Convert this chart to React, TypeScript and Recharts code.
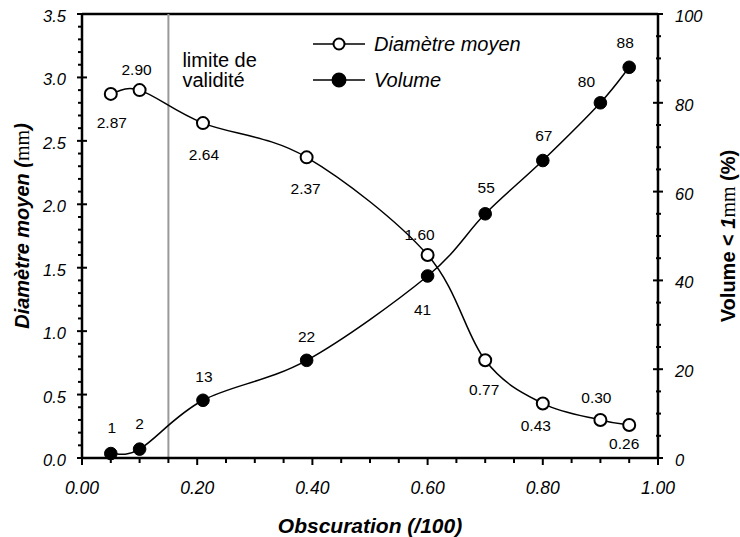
import {
  LineChart,
  Line,
  XAxis,
  YAxis,
  ReferenceLine,
  LabelList,
  Legend,
  Label,
} from 'recharts';

const FONT = "Arial, 'Liberation Sans', sans-serif";

const obscuration = [0.05, 0.1, 0.21, 0.39, 0.6, 0.7, 0.8, 0.9, 0.95];
const diametre = [2.87, 2.9, 2.64, 2.37, 1.6, 0.77, 0.43, 0.3, 0.26];
const volume = [1, 2, 13, 22, 41, 55, 67, 80, 88];

const xMajor = [0, 0.2, 0.4, 0.6, 0.8, 1.0];
const leftMajor = [0, 0.5, 1.0, 1.5, 2.0, 2.5, 3.0, 3.5];
const rightMajor = [0, 20, 40, 60, 80, 100];
const validityLimit = 0.15;

// where each value label sits relative to its marker [dx, dy]
const diamLabelOffset = [[1, 29], [-3, -21], [1, 31], [-1, 31], [-8, -21], [-1, 29], [-7, 22], [-4, -22], [-5, 18]];
const volLabelOffset = [[1, -26], [0, -26], [1, -24], [0, -24], [-5, 34], [1, -26], [1, -25], [-14, -21], [-4, -25]];

const data = obscuration.map((x, i) => ({ x, diam: diametre[i], vol: volume[i] }));

const steps = (from: number, to: number, step: number) => {
  const out: number[] = [];
  for (let v = from; v <= to + step / 2; v += step) out.push(Number(v.toFixed(3)));
  return out;
};
const xTicks = steps(0, 1, 0.05);
const leftTicks = steps(0, 3.5, 0.1);
const rightTicks = steps(0, 100, 5);

const isMajor = (list: number[], v: number) => list.some((m) => Math.abs(m - v) < 1e-6);

// Excel-style smoothed line (bezier, 1/6 tangents)
function excelCurve(context: any) {
  let pts: number[][] = [];
  return {
    areaStart() {},
    areaEnd() {},
    lineStart() { pts = []; },
    lineEnd() {
      if (!pts.length) return;
      context.moveTo(pts[0][0], pts[0][1]);
      for (let i = 0; i < pts.length - 1; i++) {
        const p0 = pts[i - 1] || pts[i];
        const p1 = pts[i];
        const p2 = pts[i + 1];
        const p3 = pts[i + 2] || p2;
        context.bezierCurveTo(
          p1[0] + (p2[0] - p0[0]) / 6, p1[1] + (p2[1] - p0[1]) / 6,
          p2[0] - (p3[0] - p1[0]) / 6, p2[1] - (p3[1] - p1[1]) / 6,
          p2[0], p2[1],
        );
      }
    },
    point(x: number, y: number) { pts.push([+x, +y]); },
  };
}

function XTick({ x, y, payload }: any) {
  const major = isMajor(xMajor, payload.value);
  return (
    <g>
      <line x1={x} x2={x} y1={y} y2={y + (major ? 7 : 5)} stroke="#000" strokeWidth={2} />
      {major && (
        <text x={x} y={y + 30} textAnchor="middle" dominantBaseline="central"
          fontFamily={FONT} fontStyle="italic" fontSize={17.5} fill="#000">
          {payload.value.toFixed(2)}
        </text>
      )}
    </g>
  );
}

function LeftTick({ x, y, payload }: any) {
  const major = isMajor(leftMajor, payload.value);
  return (
    <g>
      <line x1={major ? x - 5 : x - 4} x2={major ? x + 5 : x} y1={y} y2={y} stroke="#000" strokeWidth={2} />
      {major && (
        <text x={x - 16} y={y + 2} textAnchor="end" dominantBaseline="central"
          fontFamily={FONT} fontStyle="italic" fontSize={16.5} fill="#000">
          {payload.value.toFixed(1)}
        </text>
      )}
    </g>
  );
}

function RightTick({ x, y, payload }: any) {
  const major = isMajor(rightMajor, payload.value);
  return (
    <g>
      <line x1={major ? x - 5 : x - 2} x2={major ? x + 5 : x + 3} y1={y} y2={y} stroke="#000" strokeWidth={2} />
      {major && (
        <text x={x + 17} y={y + 2} textAnchor="start" dominantBaseline="central"
          fontFamily={FONT} fontStyle="italic" fontSize={16.5} fill="#000">
          {payload.value}
        </text>
      )}
    </g>
  );
}

function ValueLabel({ x, y, value, index, offsets, digits }: any) {
  const [dx, dy] = offsets[index];
  return (
    <text x={x + dx} y={y + dy} textAnchor="middle" dominantBaseline="central"
      fontFamily={FONT} fontSize={15.5} fill="#000">
      {Number(value).toFixed(digits)}
    </text>
  );
}

function LeftTitle({ viewBox }: any) {
  const cx = viewBox.x + 22;
  const cy = viewBox.y + viewBox.height / 2 - 10;
  return (
    <text x={cx} y={cy} transform={`rotate(-90 ${cx} ${cy})`} textAnchor="middle" dominantBaseline="central"
      fontFamily={FONT} fontStyle="italic" fontWeight="bold" fontSize={20} fill="#000">
      Diamètre moyen (<tspan fontFamily="'Liberation Serif', serif" fontStyle="normal" fontWeight="normal">mm</tspan>)
    </text>
  );
}

function RightTitle({ viewBox }: any) {
  const cx = viewBox.x + 70;
  const cy = viewBox.y + viewBox.height / 2;
  return (
    <text x={cx} y={cy} transform={`rotate(-90 ${cx} ${cy})`} textAnchor="middle" dominantBaseline="central"
      fontFamily={FONT} fontWeight="bold" fontSize={20} fill="#000">
      Volume &lt; <tspan fontStyle="italic">1</tspan><tspan fontFamily="'Liberation Serif', serif" fontWeight="normal">mm</tspan> (%)
    </text>
  );
}

function XTitle({ viewBox }: any) {
  return (
    <text x={viewBox.x + viewBox.width / 2} y={525} textAnchor="middle" dominantBaseline="central"
      fontFamily={FONT} fontStyle="italic" fontWeight="bold" fontSize={21} fill="#000">
      Obscuration (/100)
    </text>
  );
}

function ValidityLabel({ viewBox }: any) {
  const x = viewBox.x + 14;
  return (
    <text fontFamily={FONT} fontSize={20} fill="#000" dominantBaseline="central">
      <tspan x={x} y={viewBox.y + 46}>limite de</tspan>
      <tspan x={x} y={viewBox.y + 66}>validité</tspan>
    </text>
  );
}

function LegendBox({ payload }: any) {
  return (
    <div style={{ fontFamily: FONT, fontSize: 20, fontStyle: 'italic', color: '#000' }}>
      {(payload || []).map((entry: any) => (
        <div key={entry.value} style={{ display: 'flex', alignItems: 'center', height: 36 }}>
          <svg width={52} height={16}>
            <line x1={0} x2={52} y1={8} y2={8} stroke="#000" strokeWidth={1.5} />
            <circle cx={26} cy={8} r={entry.dataKey === 'diam' ? 5.5 : 6.5}
              fill={entry.dataKey === 'diam' ? '#fff' : '#000'} stroke="#000" strokeWidth={2} />
          </svg>
          <span style={{ marginLeft: 9 }}>{entry.value}</span>
        </div>
      ))}
    </div>
  );
}

export default function App() {
  return (
    <div style={{ position: 'absolute', left: 0, top: 0, width: 740, height: 537, background: '#fff' }}>
      <LineChart width={740} height={537} data={data} margin={{ top: 14, right: 0, bottom: 0, left: 0 }}>
        <XAxis dataKey="x" type="number" domain={[0, 1]} ticks={xTicks} interval={0}
          tickSize={0} tickMargin={0} tickLine={false} tick={<XTick />} height={79}
          axisLine={{ stroke: '#000', strokeWidth: 2.5 }}>
          <Label content={<XTitle />} />
        </XAxis>
        <YAxis yAxisId="left" type="number" domain={[0, 3.5]} ticks={leftTicks} interval={0}
          tickSize={0} tickMargin={0} tickLine={false} tick={<LeftTick />} width={82}
          axisLine={{ stroke: '#000', strokeWidth: 2.5 }}>
          <Label content={<LeftTitle />} />
        </YAxis>
        <YAxis yAxisId="right" orientation="right" type="number" domain={[0, 100]} ticks={rightTicks} interval={0}
          tickSize={0} tickMargin={0} tickLine={false} tick={<RightTick />} width={82}
          axisLine={{ stroke: '#000', strokeWidth: 2.5 }}>
          <Label content={<RightTitle />} />
        </YAxis>
        <ReferenceLine yAxisId="left" y={3.5} stroke="#000" strokeWidth={2.5} />
        <ReferenceLine yAxisId="left" x={validityLimit} stroke="#999" strokeWidth={2}
          label={<ValidityLabel />} />
        <Line yAxisId="left" dataKey="diam" name="Diamètre moyen" type={excelCurve as any}
          stroke="#000" strokeWidth={1.5} isAnimationActive={false}
          dot={{ r: 6, fill: '#fff', stroke: '#000', strokeWidth: 2 }}>
          <LabelList dataKey="diam" content={<ValueLabel offsets={diamLabelOffset} digits={2} />} />
        </Line>
        <Line yAxisId="right" dataKey="vol" name="Volume" type={excelCurve as any}
          stroke="#000" strokeWidth={1.5} isAnimationActive={false}
          dot={{ r: 6.3, fill: '#000', stroke: '#000', strokeWidth: 1 }}>
          <LabelList dataKey="vol" content={<ValueLabel offsets={volLabelOffset} digits={0} />} />
        </Line>
        <Legend layout="vertical" align="center" verticalAlign="middle"
          wrapperStyle={{ left: 313, top: 26, width: 260 }} content={<LegendBox />} />
      </LineChart>
    </div>
  );
}
